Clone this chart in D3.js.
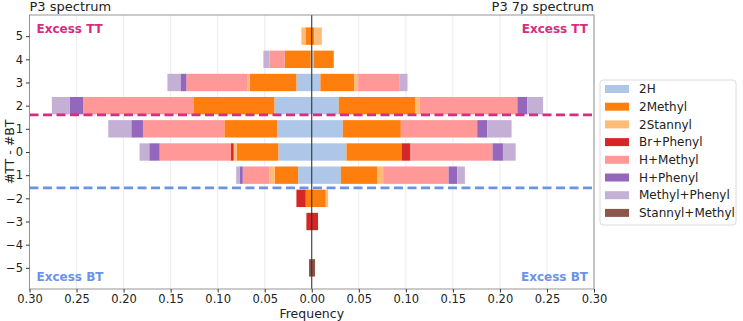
<!DOCTYPE html>
<html>
<head>
    <meta charset="utf-8">
    <script src="https://cdnjs.cloudflare.com/ajax/libs/d3/7.8.5/d3.min.js"></script>
    <style>
        body { margin: 0; background: #fff; }
        text { font-family: "DejaVu Sans", sans-serif; fill: #222; }
        .grid line { stroke: #e6e6e6; stroke-width: 0.8px; }
        .axis path { display: none; }
        .axis line { stroke: #333; }
        .axis text { font-size: 11.5px; }
    </style>
</head>
<body>
    <div id="chart"></div>
    <script>
        const width = 743, height = 321;

        // stacking order, from the centre outwards
        const categories = ["2H", "2Methyl", "2Stannyl", "Br+Phenyl", "H+Methyl", "H+Phenyl", "Methyl+Phenyl", "Stannyl+Methyl"];
        const colors = ["#aec7e8", "#ff7f0e", "#ffbb78", "#d62728", "#ff9896", "#9467bd", "#c5b0d5", "#8c564b"];
        const rows = [5, 4, 3, 2, 1, 0, -1, -2, -3, -4, -5];
        const xTicks = [-0.30, -0.25, -0.20, -0.15, -0.10, -0.05, 0, 0.05, 0.10, 0.15, 0.20, 0.25, 0.30];

        // P3 spectrum (left), one row per #TT - #BT, values in category order
        const p3Values = [
            [0, 0.0067, 0.0043, 0, 0, 0, 0, 0],
            [0.001, 0.0277, 0, 0, 0.0163, 0, 0.0064, 0],
            [0.0163, 0.0496, 0.0028, 0, 0.0645, 0.0064, 0.0138, 0],
            [0.0397, 0.0855, 0, 0, 0.1177, 0.0145, 0.0188, 0],
            [0.0365, 0.0564, 0, 0, 0.0865, 0.0124, 0.0245, 0],
            [0.0355, 0.0443, 0.0032, 0.0028, 0.0759, 0.011, 0.0103, 0],
            [0.0145, 0.0248, 0.006, 0, 0.028, 0.0035, 0.0035, 0],
            [0, 0.0064, 0, 0.0099, 0, 0, 0, 0],
            [0, 0, 0, 0.0057, 0, 0, 0, 0],
            [0, 0, 0, 0, 0, 0, 0, 0],
            [0, 0, 0, 0, 0, 0, 0, 0.0029]
        ];

        // P3 7p spectrum (right)
        const p37pValues = [
            [0, 0.0025, 0.0082, 0, 0, 0, 0, 0],
            [0.002, 0.0214, 0, 0, 0, 0, 0, 0],
            [0.0092, 0.0362, 0.0039, 0, 0.0443, 0, 0.0082, 0],
            [0.0287, 0.0816, 0.0043, 0, 0.104, 0.0106, 0.0167, 0],
            [0.033, 0.0617, 0, 0, 0.0812, 0.0106, 0.0259, 0],
            [0.0369, 0.0585, 0, 0.0096, 0.0872, 0.011, 0.0135, 0],
            [0.0309, 0.039, 0.006, 0, 0.0695, 0.0092, 0.0082, 0],
            [0, 0.0149, 0.0025, 0, 0, 0, 0, 0],
            [0, 0, 0, 0.0067, 0, 0, 0, 0],
            [0, 0, 0, 0, 0, 0, 0, 0],
            [0, 0, 0, 0, 0, 0, 0, 0.0035]
        ];

        const margin = { top: 15, right: 149, bottom: 32, left: 29.5 };
        const x = d3.scaleLinear().domain([-0.30, 0.30]).range([margin.left, width - margin.right]);
        const y = d3.scaleLinear().domain([-5.9125, 5.9125]).range([height - margin.bottom, margin.top]);
        const color = d3.scaleOrdinal().domain(categories).range(colors);
        const barH = y(0) - y(0.75);

        const svg = d3.select("#chart").append("svg").attr("width", width).attr("height", height);

        // grid
        svg.append("g").attr("class", "grid")
            .selectAll("line").data(xTicks.filter(d => d !== 0)).enter().append("line")
            .attr("x1", d => x(d)).attr("x2", d => x(d))
            .attr("y1", y.range()[1]).attr("y2", y.range()[0]);

        function toTable(values, sign) {
            return values.map((r, i) => {
                const o = { row: rows[i] };
                categories.forEach((c, j) => o[c] = r[j] * sign);
                return o;
            });
        }

        const stack = d3.stack().keys(categories).offset(d3.stackOffsetDiverging);
        const sides = [stack(toTable(p3Values, -1)), stack(toTable(p37pValues, 1))];

        sides.forEach(series => {
            svg.append("g").selectAll("g").data(series).enter().append("g")
                .attr("fill", d => color(d.key))
                .selectAll("rect").data(d => d.filter(s => s[1] - s[0] !== 0)).enter().append("rect")
                .attr("x", d => x(Math.min(d[0], d[1])))
                .attr("width", d => Math.abs(x(d[1]) - x(d[0])))
                .attr("y", d => y(d.data.row) - barH / 2)
                .attr("height", barH);
        });

        // zero line
        svg.append("line")
            .attr("x1", x(0)).attr("x2", x(0))
            .attr("y1", y.range()[1]).attr("y2", y.range()[0])
            .attr("stroke", "#222").attr("stroke-width", 1);

        // threshold lines
        const thresholds = [{ v: 1.6, c: "#d62d80" }, { v: -1.55, c: "#6a93e8" }];
        svg.selectAll(".thr").data(thresholds).enter().append("line")
            .attr("x1", x.range()[0]).attr("x2", x.range()[1])
            .attr("y1", d => y(d.v)).attr("y2", d => y(d.v))
            .attr("stroke", d => d.c).attr("stroke-width", 2.8)
            .attr("stroke-dasharray", "9,4.5");

        // frame
        svg.append("rect")
            .attr("x", x.range()[0]).attr("y", y.range()[1])
            .attr("width", x.range()[1] - x.range()[0])
            .attr("height", y.range()[0] - y.range()[1])
            .attr("fill", "none").attr("stroke", "#8a8a8a").attr("stroke-width", 0.9);

        // axes
        svg.append("g").attr("class", "axis")
            .attr("transform", `translate(0,${y.range()[0]})`)
            .call(d3.axisBottom(x).tickValues(xTicks).tickSize(3.5).tickPadding(2)
                .tickFormat(d => d3.format(".2f")(Math.abs(d))));

        svg.append("g").attr("class", "axis")
            .attr("transform", `translate(${x.range()[0]},0)`)
            .call(d3.axisLeft(y).tickValues(rows).tickSize(3.5).tickPadding(3).tickFormat(d3.format("d")));

        svg.append("text").attr("x", x(0)).attr("y", 318).attr("text-anchor", "middle")
            .style("font-size", "12.5px").text("Frequency");

        svg.append("text").attr("transform", `translate(10,${y(0)}) rotate(-90)`)
            .attr("text-anchor", "middle").attr("dy", "0.35em")
            .style("font-size", "12.5px").text("#TT - #BT");

        svg.append("text").attr("x", x.range()[0]).attr("y", 11)
            .style("font-size", "13px").text("P3 spectrum");
        svg.append("text").attr("x", x.range()[1]).attr("y", 11).attr("text-anchor", "end")
            .style("font-size", "13px").text("P3 7p spectrum");

        const notes = [
            { t: "Excess TT", c: "#d62d80", yy: 33 },
            { t: "Excess BT", c: "#6a93e8", yy: 281 }
        ];
        notes.forEach(n => {
            svg.append("text").attr("x", x.range()[0] + 7).attr("y", n.yy)
                .style("font-size", "12px").style("font-weight", "bold").style("fill", n.c).text(n.t);
            svg.append("text").attr("x", x.range()[1] - 6).attr("y", n.yy).attr("text-anchor", "end")
                .style("font-size", "12px").style("font-weight", "bold").style("fill", n.c).text(n.t);
        });

        // legend
        const lg = svg.append("g").attr("transform", "translate(600,80)");
        lg.append("rect").attr("width", 136).attr("height", 145).attr("rx", 3)
            .attr("fill", "#fff").attr("stroke", "#dcdcdc");
        const item = lg.selectAll(".item").data(categories).enter().append("g")
            .attr("transform", (d, i) => `translate(5,${9 + i * 17.7})`);
        item.append("rect").attr("x", 0).attr("y", -4).attr("width", 24).attr("height", 8)
            .attr("fill", d => color(d));
        item.append("text").attr("x", 34).attr("dy", "0.35em")
            .style("font-size", "12px").text(d => d);
    </script>
</body>
</html>
